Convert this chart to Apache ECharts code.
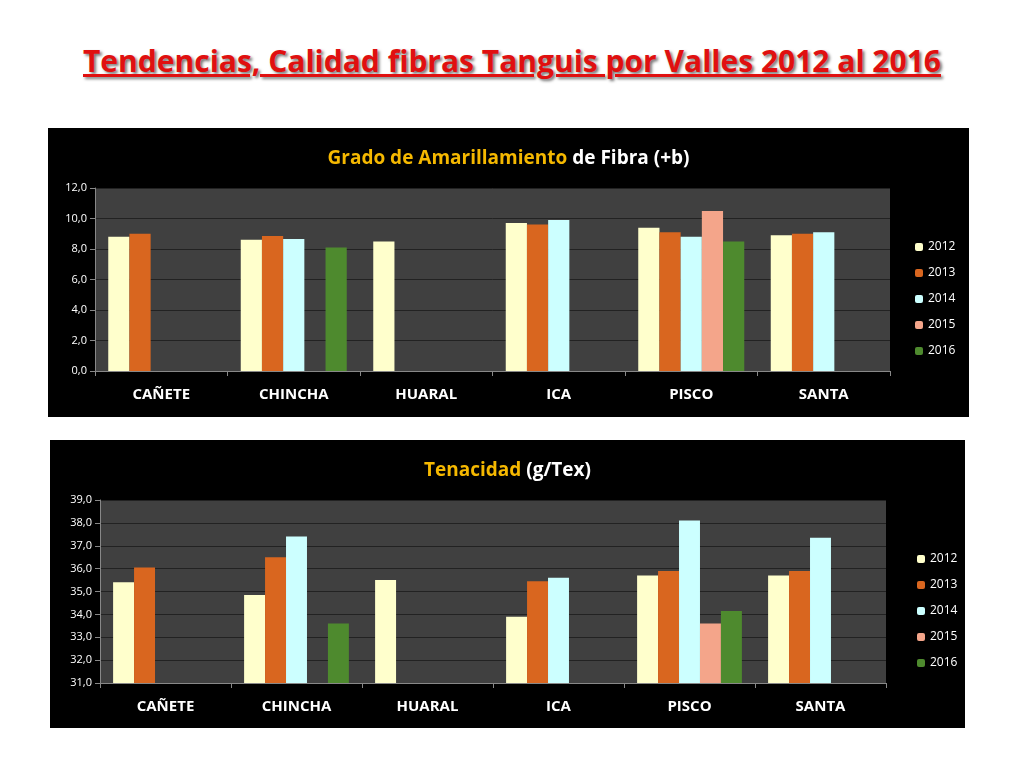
<!DOCTYPE html>
<html lang="es">
<head>
<meta charset="utf-8">
<title>Tendencias fibras Tanguis</title>
<script src="https://cdn.jsdelivr.net/npm/echarts@6/dist/echarts.min.js"></script>
<style>
  body { margin:0; width:1024px; height:768px; background:#fff; position:relative; overflow:hidden; font-family:"Open Sans",Calibri,sans-serif; }
  h1 { position:absolute; left:0; top:40px; width:1024px; margin:0; text-align:center; font-size:30px; font-weight:bold; color:#e01010; text-decoration:underline; text-shadow:2px 2px 3px #777; }
  .box { position:absolute; background:#000; }
</style>
</head>
<body>
<h1>Tendencias, Calidad fibras Tanguis por Valles 2012 al 2016</h1>
<div id="c1" class="box" style="left:48px;top:128px;width:921px;height:289px"></div>
<div id="c2" class="box" style="left:50px;top:440px;width:915px;height:288px"></div>
<script>
var valles = ['CAÑETE', 'CHINCHA', 'HUARAL', 'ICA', 'PISCO', 'SANTA'];
var years = ['2012', '2013', '2014', '2015', '2016'];
var colors = ['#FFFFCC', '#D9661F', '#CCFFFF', '#F4A58A', '#4E8A2E'];

// Grado de amarillamiento (+b)
var amar2012 = [8.8, 8.6, 8.5, 9.7, 9.4, 8.9];
var amar2013 = [9.0, 8.85, null, 9.6, 9.1, 9.0];
var amar2014 = [null, 8.65, null, 9.9, 8.8, 9.1];
var amar2015 = [null, null, null, null, 10.5, null];
var amar2016 = [null, 8.1, null, null, 8.5, null];

// Tenacidad (g/Tex)
var ten2012 = [35.4, 34.85, 35.5, 33.9, 35.7, 35.7];
var ten2013 = [36.05, 36.5, null, 35.45, 35.9, 35.9];
var ten2014 = [null, 37.4, null, 35.6, 38.1, 37.35];
var ten2015 = [null, null, null, null, 33.6, null];
var ten2016 = [null, 33.6, null, null, 34.15, null];

function makeOption(title1, title2, seriesData, min, max, interval, grid) {
  return {
    title: {
      left: 'center', top: 16,
      text: '{a|' + title1 + '} {b|' + title2 + '}',
      textStyle: { rich: {
        a: { color: '#F5B800', fontSize: 19, fontWeight: 'bold', fontFamily: 'Open Sans' },
        b: { color: '#fff', fontSize: 19, fontWeight: 'bold', fontFamily: 'Open Sans' }
      } }
    },
    legend: {
      orient: 'vertical', left: 862, top: 108, itemGap: 14,
      itemWidth: 8, itemHeight: 8,
      textStyle: { color: '#fff', fontSize: 12, fontFamily: 'Open Sans' },
      data: years
    },
    grid: grid,
    xAxis: {
      type: 'category', data: valles,
      axisLine: { lineStyle: { color: '#888' } },
      axisTick: { show: true, lineStyle: { color: '#888' } },
      axisLabel: { color: '#fff', fontSize: 15, fontFamily: 'Open Sans', fontWeight: 'bold', margin: 16 }
    },
    yAxis: {
      type: 'value', min: min, max: max, interval: interval,
      axisLine: { show: true, lineStyle: { color: '#888' } },
      axisTick: { show: true, lineStyle: { color: '#888' } },
      axisLabel: { color: '#fff', fontSize: 11, fontFamily: 'Open Sans', formatter: function (v) { return v.toFixed(1).replace('.', ','); } },
      splitLine: { lineStyle: { color: '#222' } },
      splitArea: { show: true, areaStyle: { color: ['#404040', '#404040'] } }
    },
    series: seriesData.map(function (d, i) {
      return { name: years[i], type: 'bar', data: d, barGap: '0%', barCategoryGap: '20%',
               itemStyle: { color: colors[i] } };
    })
  };
}

echarts.init(document.getElementById('c1')).setOption(makeOption(
  'Grado de Amarillamiento', 'de Fibra (+b)',
  [amar2012, amar2013, amar2014, amar2015, amar2016], 0, 12, 2,
  { left: 47, top: 60, width: 795, height: 183 }));

echarts.init(document.getElementById('c2')).setOption(makeOption(
  'Tenacidad', '(g/Tex)',
  [ten2012, ten2013, ten2014, ten2015, ten2016], 31, 39, 1,
  { left: 50, top: 60, width: 786, height: 183 }));
</script>
</body>
</html>
